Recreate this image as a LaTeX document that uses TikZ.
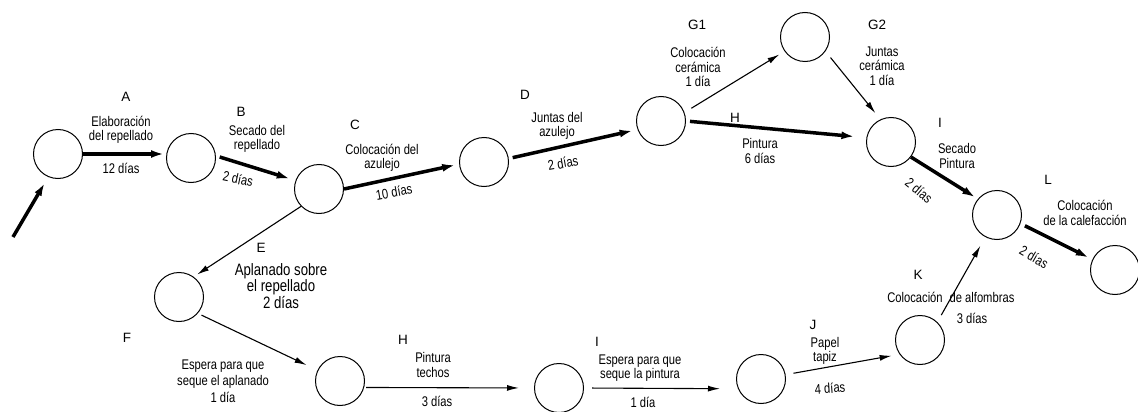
\documentclass[tikz,border=0pt]{standalone}
\usepackage{fontspec}
\setmainfont[FakeStretch=0.8]{Liberation Sans}
\newfontfamily\letterfont{Liberation Sans}
\usetikzlibrary{arrows.meta}
\tikzset{
  ev/.style={circle, draw, line width=1pt, minimum size=49pt, inner sep=0pt},
  crit/.style={-{Latex[length=13pt,width=8pt]}, line width=3.5pt},
  act/.style={-{Latex[length=12pt,width=6pt]}, line width=1.1pt},
  lbl/.style={font=\fontsize{14}{14.5}\selectfont, align=center, inner sep=0pt},
  biglbl/.style={font=\fontsize{16.5}{16.5}\selectfont, align=center, inner sep=0pt},
  ltr/.style={font=\letterfont\fontsize{13.5}{13.5}\selectfont, inner sep=0pt},
}
\begin{document}
\begin{tikzpicture}[x=1pt, y=-1pt]
\useasboundingbox (0,0) rectangle (1138,412);

% events
\node[ev] (n1) at (58,154) {};
\node[ev] (n2) at (191,158) {};
\node[ev] (n3) at (319,189) {};
\node[ev] (n4) at (484,162) {};
\node[ev] (n5) at (661,121) {};
\node[ev] (n6) at (805,37) {};
\node[ev] (n7) at (891,142) {};
\node[ev] (n8) at (997,215) {};
\node[ev] (n9) at (1115,270) {};
\node[ev] (nF) at (179,297) {};
\node[ev] (nG) at (340,381) {};
\node[ev] (nH) at (559,388) {};
\node[ev] (nI) at (761,379) {};
\node[ev] (nJ) at (920,340) {};
\coordinate (s0) at (13,237);

% critical path
\draw[crit, shorten >=7pt] (s0) -- (n1.247);
\draw[crit, shorten >=2pt] (n1.east) -- (n1.east -| n2.west);
\draw[crit, shorten <=4pt, shorten >=6pt] (n2.5) -- (n3.160);
\draw[crit, shorten >=4pt] (n3.east) -- (n4.185);
\draw[crit, shorten <=4pt, shorten >=5pt] (n4.8) -- (n5.200);
\draw[crit, shorten <=4pt, shorten >=12pt] (n5.east) -- (n7.170);
\draw[crit, shorten >=3pt] (n7.-37) -- (n8.140);
\draw[crit, shorten <=5pt, shorten >=4pt] (n8.-20) -- (n9.155);

% other activities
\draw[act, shorten <=8pt, shorten >=6pt] (n5.20) -- (n6.215);
\draw[act, shorten <=8pt, shorten >=8pt] (n6.-35) -- (n7.115);
\draw[act, shorten >=4pt] (n3.224) -- (nF.54);
\draw[act, shorten <=4pt, shorten >=12pt] (nF.319) -- (nG);
\draw[act, shorten <=2pt, shorten >=15pt] (nG.-15) -- (nH.180);
\draw[act, shorten <=8pt, shorten >=18pt] (nH.0) -- (nI.203);
\draw[act, shorten <=8pt, shorten >=8pt] (nI.10) -- (nJ.215);
\draw[act, shorten <=8pt, shorten >=10pt] (nJ.46) -- (n8.242);

% labels: upper branch
\node[ltr] (tA) at (126,97) {A};
\node[lbl] (dA) at (121,130) {Elaboración\\del repellado};
\node[lbl] (tA2) at (121,168) {12 días};

\node[ltr] (tB) at (241,112) {B};
\node[lbl] (dB) at (257,139) {Secado del\\repellado};
\node[lbl, rotate=-12] (tB2) at (238,179) {2 días};

\node[ltr] (tC) at (355,125) {C};
\node[lbl] (dC) at (382,158) {Colocación del\\azulejo};
\node[lbl, rotate=10] (tC2) at (394,192) {10 días};

\node[ltr] (tD) at (525,95) {D};
\node[lbl] (dD) at (557,126) {Juntas del\\azulejo};
\node[lbl, rotate=10] (tD2) at (563,163) {2 días};

\node[ltr] (tG1) at (697,25) {G1};
\node[lbl] (dG1) at (698,67) {Colocación\\cerámica\\1 día};

\node[ltr] (tG2) at (877,25) {G2};
\node[lbl] (dG2) at (882,66) {Juntas\\cerámica\\1 día};

\node[ltr] (tH) at (735,118) {H};
\node[lbl] (dH) at (760,151) {Pintura\\6 días};

\node[ltr] (tI) at (940,123) {I};
\node[lbl] (dI) at (957,156) {Secado\\Pintura};
\node[lbl, rotate=-40] (tI2) at (919,190) {2 días};

\node[ltr] (tL) at (1048,180) {L};
\node[lbl] (dL) at (1085,213) {Colocación\\de la calefacción};
\node[lbl, rotate=-30] (tL2) at (1034,257) {2 días};

% labels: lower branch
\node[ltr] (tE) at (261,248) {E};
\node[biglbl] (dE) at (281,286) {Aplanado sobre\\el repellado\\2 días};

\node[ltr] (tF) at (127,338) {F};
\node[lbl, font=\fontsize{14}{16.5}\selectfont] (dF) at (223,381) {Espera para que\\seque el aplanado\\1 día};

\node[ltr] (tH2) at (403,340) {H};
\node[lbl] (dH2) at (433,365) {Pintura\\techos};
\node[lbl] (tH3) at (437,401) {3 días};

\node[ltr] (tI3) at (597,342) {I};
\node[lbl] (dI3) at (640,368) {Espera para que\\seque la pintura};
\node[lbl] (tI4) at (643,402) {1 día};

\node[ltr] (tJ) at (813,325) {J};
\node[lbl] (dJ) at (825,351) {Papel\\tapiz};
\node[lbl, rotate=4] (tJ2) at (830,388) {4 días};

\node[ltr] (tK) at (918,275) {K};
\node[lbl] (dK1) at (915,297) {Colocación};
\node[lbl] (dK2) at (982,297) {de alfombras};
\node[lbl] (tK2) at (972,318) {3 días};
\end{tikzpicture}
\end{document}
